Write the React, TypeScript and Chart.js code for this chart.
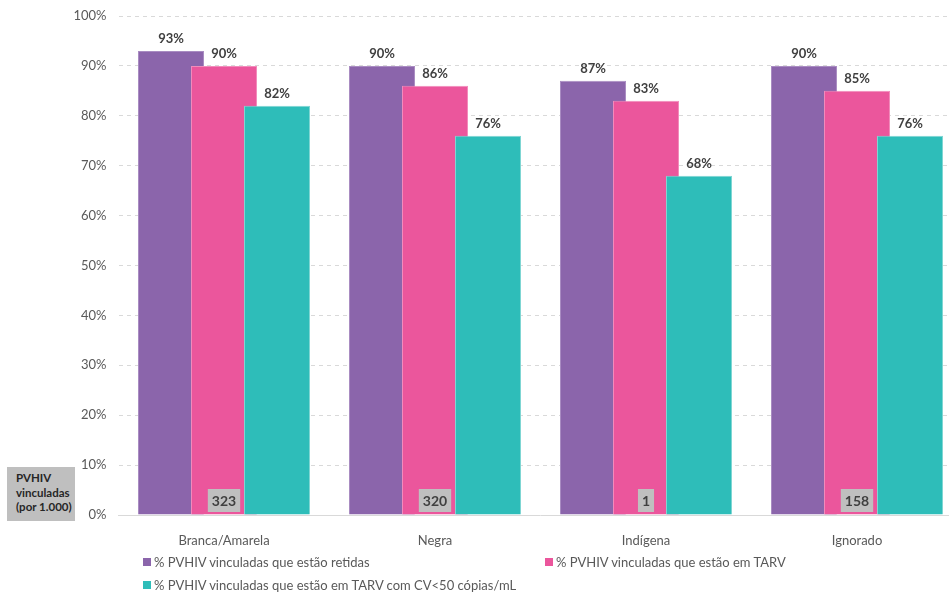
import React, { useEffect, useRef } from "react";
import { Chart, registerables } from "chart.js";

Chart.register(...registerables);

const categories = ["Branca/Amarela", "Negra", "Indígena", "Ignorado"];
const retidas = [93, 90, 87, 90];
const emTarv = [90, 86, 83, 85];
const cvSupressa = [82, 76, 68, 76];
const vinculadas = ["323", "320", "1", "158"];
const seriesNames = [
  "% PVHIV vinculadas que estão retidas",
  "% PVHIV vinculadas que estão em TARV",
  "% PVHIV vinculadas que estão em TARV com CV<50 cópias/mL",
];
const colors = ["#8b65ab", "#eb569c", "#2ebdb9"];
const borders = ["#a98cc2", "#f28bbb", "#7fd6d3"];

const FONT = "Lato, 'Open Sans', sans-serif";
const W = 970;
const H = 592;

export default function App() {
  const ref = useRef<HTMLCanvasElement>(null);
  useEffect(() => {
    document.body.style.overflow = "hidden";
    const ctx = ref.current!.getContext("2d")!;
    const orderPlugin = {
      id: "orderPlugin",
      beforeDatasetsDraw(chart: any) {
        const c = chart.ctx;
        const a = chart.chartArea;
        c.save();
        c.beginPath();
        c.rect(a.left, a.top - 2, a.right - a.left, a.bottom - a.top + 2);
        c.clip();
        for (let i = 0; i < chart.data.datasets.length; i++) {
          const meta = chart.getDatasetMeta(i);
          meta.controller.draw();
        }
        c.restore();
        return false;
      },
    };
    const labelPlugin = {
      id: "labelPlugin",
      afterDraw(chart: any) {
        const c = chart.ctx;
        c.save();
        c.font = `bold 13px ${FONT}`;
        c.fillStyle = "#404040";
        c.textAlign = "center";
        c.textBaseline = "alphabetic";
        chart.data.datasets.forEach((ds: any, i: number) => {
          const meta = chart.getDatasetMeta(i);
          meta.data.forEach((bar: any, j: number) => {
            c.fillText(Math.round(ds.data[j]) + "%", bar.x, bar.y - 8);
          });
        });
        const pink = chart.getDatasetMeta(1);
        c.font = `bold 14px ${FONT}`;
        pink.data.forEach((bar: any, j: number) => {
          const t = vinculadas[j];
          const tw = c.measureText(t).width;
          const bw = tw + 8;
          const bh = 23;
          const by = chart.chartArea.bottom - 3 - bh;
          c.fillStyle = "#bfbfbf";
          c.fillRect(bar.x - bw / 2, by, bw, bh);
          c.fillStyle = "#404040";
          c.textBaseline = "middle";
          c.fillText(t, bar.x, by + bh / 2 + 1);
        });
        c.restore();
      },
    };
    const chart = new Chart(ctx, {
      type: "bar",
      data: {
        labels: categories,
        datasets: [retidas, emTarv, cvSupressa].map((d, i) => ({
          label: seriesNames[i],
          data: d,
          backgroundColor: colors[i],
          borderColor: borders[i],
          borderWidth: 1,
          barPercentage: 1.245,
          categoryPercentage: 0.7536,
        })),
      },
      options: {
        responsive: false,
        animation: false,
        layout: { padding: { top: 16, right: 7.5, left: 0, bottom: 0 } },
        plugins: {
          legend: { display: false },
          tooltip: { enabled: false },
        },
        scales: {
          x: {
            grid: { display: false },
            border: { display: true, color: "#d9d9d9", width: 1 },
            ticks: {
              color: "#595959",
              font: { family: FONT, size: 13 },
              padding: 10,
            },
            afterFit(scale: any) {
              scale.height = 77;
            },
          },
          y: {
            min: 0,
            max: 100,
            grid: {
              color: "#d9d9d9",
              drawTicks: false,
              lineWidth: 1,
            },
            border: { display: false, dash: [4, 4] },
            ticks: {
              stepSize: 10,
              color: "#595959",
              font: { family: FONT, size: 13 },
              padding: 12,
              callback: (v: any) => v + "%",
            },
            afterFit(scale: any) {
              scale.width = 118.5;
              scale.paddingTop = 0;
              scale.paddingBottom = 0;
            },
          },
        },
      },
      plugins: [orderPlugin, labelPlugin],
    } as any);
    return () => chart.destroy();
  }, []);

  const legendItem = (i: number, left: number, top: number) => (
    <div
      key={i}
      style={{
        position: "absolute",
        left,
        top,
        display: "flex",
        alignItems: "center",
        font: `13px ${FONT}`,
        color: "#595959",
        whiteSpace: "nowrap",
      }}
    >
      <span
        style={{
          display: "inline-block",
          width: 8,
          height: 8,
          background: colors[i],
          marginRight: 3,
        }}
      />
      {seriesNames[i]}
    </div>
  );

  return (
    <div style={{ position: "fixed", left: 0, top: 0, width: W, height: H, background: "#fff" }}>
      <canvas ref={ref} width={W} height={H} style={{ position: "absolute", left: 0, top: 0 }} />
      <div
        style={{
          position: "absolute",
          left: 7,
          top: 467,
          width: 68,
          height: 54,
          background: "#bfbfbf",
          boxSizing: "border-box",
          paddingLeft: 9,
          paddingTop: 4,
          font: `bold 11.5px ${FONT}`,
          lineHeight: "14.5px",
          color: "#262626",
        }}
      >
        PVHIV
        <br />
        vinculadas
        <br />
        (por 1.000)
      </div>
      {legendItem(0, 143, 554)}
      {legendItem(1, 545, 554)}
      {legendItem(2, 143, 577)}
    </div>
  );
}
